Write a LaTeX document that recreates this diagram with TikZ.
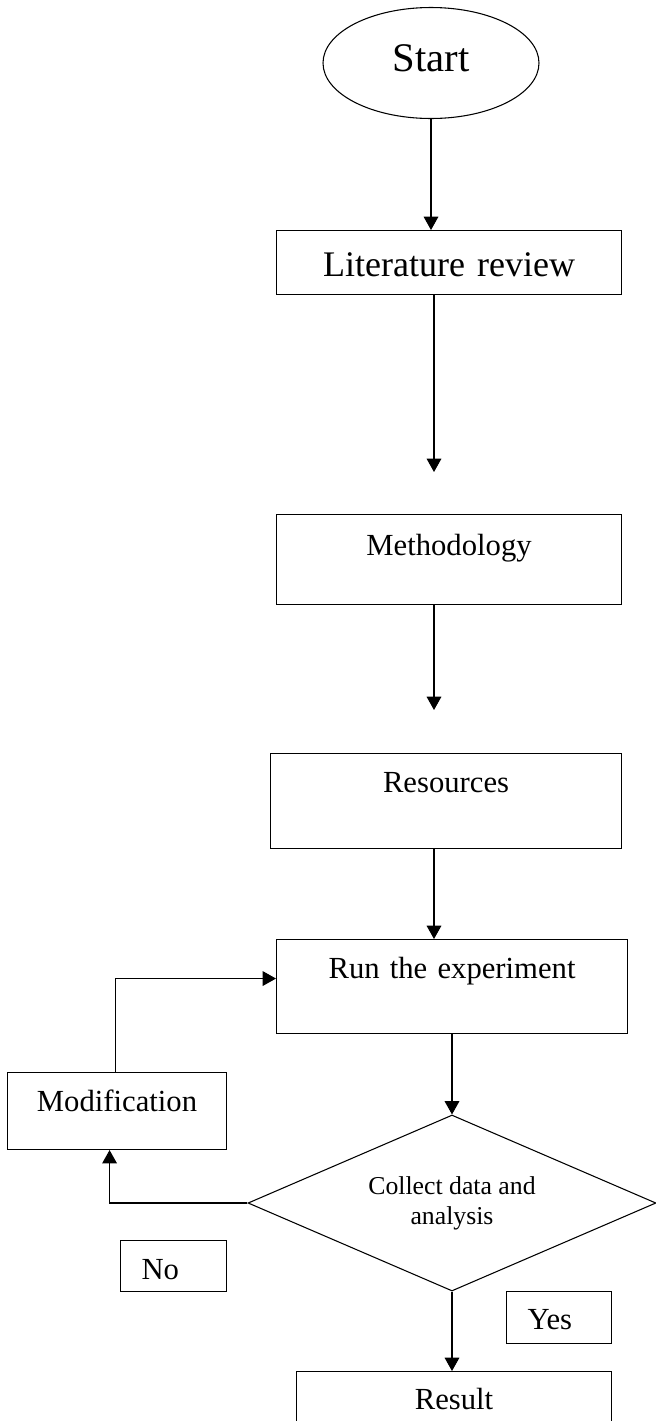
\documentclass[tikz,border=0pt]{standalone}
\usepackage{fontspec}
\setmainfont{Liberation Serif}
\usetikzlibrary{shapes.geometric,arrows.meta}

\tikzset{
  casella/.style={draw, rectangle, line width=0.8pt, inner xsep=0pt, inner ysep=0pt,
    align=center, anchor=north west, font=\fontsize{23}{27.6}\selectfont},
  etichetta/.style={casella, align=left, inner xsep=15.75pt},
  freccia/.style={-{Triangle[length=10pt,width=11pt]}, line width=0.8pt},
}

\begin{document}
\begin{tikzpicture}[x=0.75pt, y=-0.75pt] % 1 unita' = 1 pixel del disegno
    \useasboundingbox (0,0) rectangle (656,1421);

    \node[draw, ellipse, line width=0.8pt, inner sep=0pt, minimum width=162pt, minimum height=83.25pt,
          text height=21pt, text depth=9pt, font=\fontsize{30.5}{36}\selectfont] (start) at (431,63) {Start};
    \node[casella, text width=258.75pt, text height=34.5pt, text depth=13.5pt,
          font=\fontsize{27}{32}\selectfont] (lit) at (276,230) {Literature review};
    \node[casella, text width=258.75pt, text height=30.75pt, text depth=36.75pt] (meth) at (276,514) {Methodology};
    \node[casella, text width=263.25pt, text height=29.25pt, text depth=42pt] (res) at (270,753) {Resources};
    \node[casella, text width=263.25pt, text height=29.25pt, text depth=41.25pt] (run) at (276,939) {Run the experiment};
    \node[casella, text width=164.25pt, text height=29.25pt, text depth=28.5pt] (mod) at (7,1072) {Modification};

    \node[draw, diamond, line width=0.8pt, inner sep=0pt, aspect=2.32, minimum width=306pt, minimum height=132pt,
          align=center, font=\fontsize{19.3}{22.5}\selectfont] (dec) at (452,1203)
          {\raisebox{4pt}{Collect data and}\\\raisebox{4pt}{analysis}};

    \node[etichetta, text width=48pt, text height=29.25pt, text depth=9pt] (no) at (120,1240) {No};
    \node[etichetta, text width=47.25pt, text height=28.5pt, text depth=10.5pt] (yes) at (506,1291) {Yes};
    \node[casella, text width=236.25pt, text height=28.5pt, text depth=45pt] (result) at (296,1371) {Result};

    % punte delle frecce che non toccano la casella
    \coordinate (punta1) at (434,472);
    \coordinate (punta2) at (434,710);

    \draw[freccia] (start.south) -- (start.south |- lit.north);
    \draw[freccia] (lit.south -| punta1) -- (punta1);
    \draw[freccia] (meth.south -| punta2) -- (punta2);
    \draw[freccia] (res.south -| punta2) -- (run.north -| punta2);
    \draw[freccia] (run.south -| dec.north) -- (dec.north);
    \draw[freccia] (dec.west) -| ([xshift=-5.6pt]mod.south);
    \draw[freccia] ([xshift=-1.1pt]mod.north) |- ([yshift=6pt]run.west);
    \draw[freccia] (dec.south) -- (dec.south |- result.north);
\end{tikzpicture}
\end{document}
